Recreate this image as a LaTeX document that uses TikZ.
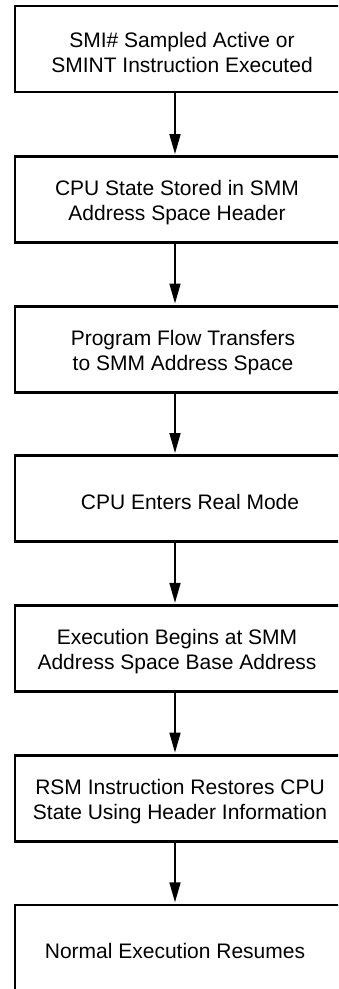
\documentclass[tikz,border=0pt]{standalone}
\usepackage{fontspec}
\setmainfont{Liberation Sans}
\usetikzlibrary{arrows.meta}
\tikzset{
  stepbox/.style={draw=black, line width=2.8pt, rectangle, minimum width=330pt, minimum height=86pt, inner sep=0pt},
  steptext/.style={align=center, inner sep=0pt, font=\fontsize{21}{25}\selectfont},
  arr/.style={line width=1.7pt, -{Triangle[length=20pt, width=11pt]}, shorten >=1.3pt}
}
\begin{document}
\begin{tikzpicture}[x=1pt, y=-1pt]
\useasboundingbox (0,0) rectangle (338,989);
\clip (0,0) rectangle (338,989);
\coordinate (ax) at (175,0);
\node[stepbox] (b1) at (180,49) {};
\node[stepbox] (b2) at (180,199.8) {};
\node[stepbox] (b3) at (180,349.2) {};
\node[stepbox] (b4) at (180,498.7) {};
\node[stepbox] (b5) at (180,648.5) {};
\node[stepbox] (b6) at (180,798.3) {};
\node[stepbox] (b7) at (180,948) {};
\node[steptext] (t1) at (182,52) {SMI\# Sampled Active or\\SMINT Instruction Executed};
\node[steptext] (t2) at (177,202.8) {CPU State Stored in SMM\\Address Space Header};
\node[steptext] (t3) at (183,352.2) {Program Flow Transfers\\to SMM Address Space};
\node[steptext] (t4) at (190,501.7) {CPU Enters Real Mode};
\node[steptext] (t5) at (177,651.5) {Execution Begins at SMM\\Address Space Base Address};
\node[steptext] (t6) at (180,801.3) {RSM Instruction Restores CPU\\State Using Header Information};
\node[steptext] (t7) at (175,951) {Normal Execution Resumes};
\draw[arr] (b1.south -| ax) -- (b2.north -| ax);
\draw[arr] (b2.south -| ax) -- (b3.north -| ax);
\draw[arr] (b3.south -| ax) -- (b4.north -| ax);
\draw[arr] (b4.south -| ax) -- (b5.north -| ax);
\draw[arr] (b5.south -| ax) -- (b6.north -| ax);
\draw[arr] (b6.south -| ax) -- (b7.north -| ax);
\end{tikzpicture}
\end{document}
